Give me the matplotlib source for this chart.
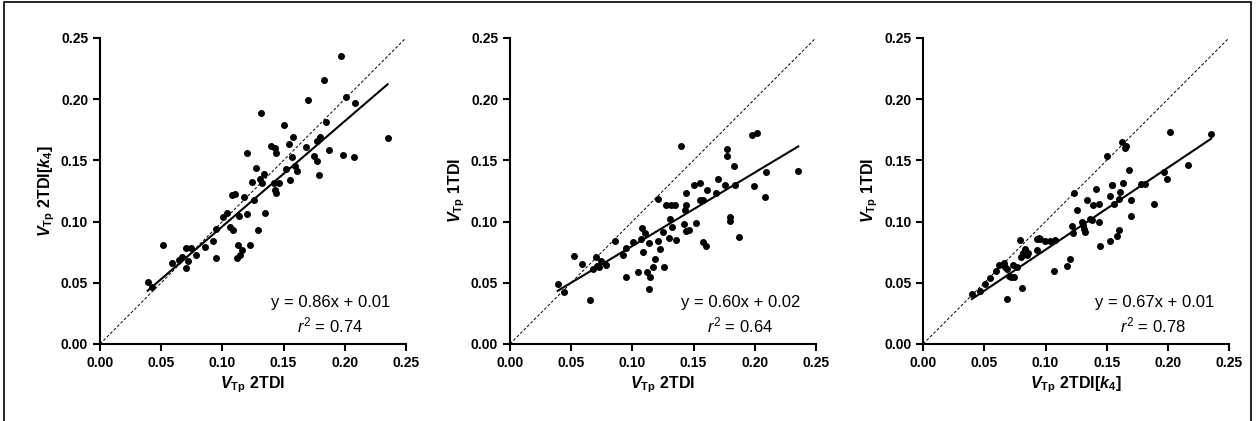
import matplotlib
matplotlib.use("Agg")
import matplotlib.pyplot as plt
import numpy as np
from matplotlib.patches import Rectangle

plt.rcParams['font.family'] = ['Liberation Sans', 'DejaVu Sans']
plt.rcParams['mathtext.fontset'] = 'custom'
plt.rcParams['mathtext.rm'] = 'Liberation Sans'
plt.rcParams['mathtext.it'] = 'Liberation Sans:italic'
plt.rcParams['mathtext.bf'] = 'Liberation Sans:bold'
plt.rcParams['mathtext.bfit'] = 'Liberation Sans:bold:italic'

p1 = [(176,787),(190,802),(223,676),(250,729),(270,720),(280,713),(290,686),(292,745),(298,725),(305,686),(320,706),(347,683),(371,664),(380,714),(381,628),(401,594),(415,580),(422,623),(430,528),(432,632),(438,525),(445,715),(448,678),(451,591),(453,706),(460,692),(466,534),(474,583),(475,400),(482,678),(489,488),(494,542),(502,447),(507,633),(514,480),(516,282),(518,492),(525,465),(529,580),(545,380),(555,492),(558,386),(560,400),(559,512),(560,520),(570,492),(584,318),(590,448),(601,375),(604,483),(610,413),(611,352),(618,440),(624,455),(649,384),(656,243),(675,410),(682,365),(684,425),(690,468),(692,352),(703,181),(709,307),(718,393),(756,110),(762,406),(771,233),(795,413),(798,252),(895,356)]
p2 = [(181,793),(199,816),(229,710),(254,732),(277,841),(287,748),(296,711),(298,740),(304,742),(312,724),(326,736),(352,664),(378,707),(387,685),(387,772),(407,668),(421,757),(430,658),(434,625),(438,698),(444,640),(450,757),(456,670),(457,771),(455,807),(466,742),(472,719),(481,664),(482,540),(488,689),(496,638),(501,741),(507,557),(514,656),(519,600),(520,557),(525,622),(534,557),(535,663),(551,380),(561,614),(562,573),(567,522),(567,557),(566,636),(576,632),(590,498),(596,611),(607,492),(609,543),(616,543),(617,667),(625,681),(630,512),(656,520),(662,479),(682,498),(688,390),(690,411),(697,605),(699,592),(709,440),(714,497),(726,652),(762,347),(768,500),(778,340),(801,534),(806,459),(902,454)]
p3 = [(191,822),(214,813),(230,792),(246,775),(262,754),(273,737),(287,730),(290,741),(296,747),(297,839),(302,768),(307,771),(313,736),(317,771),(326,741),(336,663),(340,805),(339,712),(345,700),(351,688),(355,706),(360,701),(386,690),(386,658),(391,656),(396,659),(409,665),(425,664),(437,755),(441,661),(475,740),(485,718),(490,620),(494,640),(496,521),(505,572),(521,607),(524,618),(528,630),(531,637),(536,541),(545,600),(551,603),(555,556),(564,510),(571,555),(572,608),(576,680),(595,410),(605,666),(606,530),(611,497),(612,498),(617,555),(625,649),(631,633),(631,540),(634,517),(641,368),(645,490),(651,385),(653,380),(663,452),(667,591),(668,543),(699,495),(711,495),(737,555),(766,458),(776,478),(786,339),(838,438),(908,345)]

def conv(pts, x0):
    a = np.array(pts, float)
    return (a[:,0]-x0)/3668.0, (973-a[:,1])/3668.0

x1, y1 = conv(p1, 33)
x2, y2 = conv(p2, 38)
x3, y3 = conv(p3, 45)

slopes = [0.86, 0.60, 0.67]
intercepts = [0.01, 0.02, 0.01]
eqs = ["y = 0.86x + 0.01", "y = 0.60x + 0.02", "y = 0.67x + 0.01"]
r2s = ["0.74", "0.64", "0.78"]
xlabels = [r"$\mathbfit{V}_{\mathbf{Tp}}$ 2TDI", r"$\mathbfit{V}_{\mathbf{Tp}}$ 2TDI", r"$\mathbfit{V}_{\mathbf{Tp}}$ 2TDI[$\mathbfit{k}_{\mathbf{4}}$]"]
ylabels = [r"$\mathbfit{V}_{\mathbf{Tp}}$ 2TDI[$\mathbfit{k}_{\mathbf{4}}$]", r"$\mathbfit{V}_{\mathbf{Tp}}$ 1TDI", r"$\mathbfit{V}_{\mathbf{Tp}}$ 1TDI"]
ticks = [0.00, 0.05, 0.10, 0.15, 0.20, 0.25]

fig = plt.figure(figsize=(12.56, 4.21), dpi=100)
fig.patches.append(Rectangle((0.003, -0.01), 0.993, 1.005, transform=fig.transFigure,
                             fill=False, lw=1.2, ec='black'))
lefts = [0.0796, 0.406, 0.735]
data = [(x1, y1), (x2, y2), (x3, y3)]
for i in range(3):
    ax = fig.add_axes([lefts[i], 0.183, 0.2436, 0.727])
    x, y = data[i]
    ax.plot([0, 0.25], [0, 0.25], ls=(0, (3, 2)), color='black', lw=0.7)
    xx = np.array([x.min(), x.max()])
    ax.plot(xx, slopes[i]*xx + intercepts[i], color='black', lw=1.5)
    ax.scatter(x, y, s=16, color='black', zorder=3)
    ax.set_xlim(0, 0.25); ax.set_ylim(0, 0.25)
    ax.set_xticks(ticks); ax.set_yticks(ticks)
    ax.set_xticklabels([f"{t:.2f}" for t in ticks], fontweight='bold', fontsize=10)
    ax.set_yticklabels([f"{t:.2f}" for t in ticks], fontweight='bold', fontsize=10)
    for s in ['top', 'right']:
        ax.spines[s].set_visible(False)
    for s in ['left', 'bottom']:
        ax.spines[s].set_linewidth(1.5)
    ax.tick_params(width=1.5, length=5)
    ax.set_xlabel(xlabels[i], fontsize=11.5, fontweight='bold', labelpad=3)
    ax.set_ylabel(ylabels[i], fontsize=11.5, fontweight='bold', labelpad=3)
    ax.text(0.95, 0.137, eqs[i], transform=ax.transAxes, ha='right', va='center', fontsize=12)
    ax.text(0.86, 0.062, r"$\it{r}^2$ = " + r2s[i], transform=ax.transAxes, ha='right', va='center', fontsize=12)

fig.savefig("out.png", dpi=100)
